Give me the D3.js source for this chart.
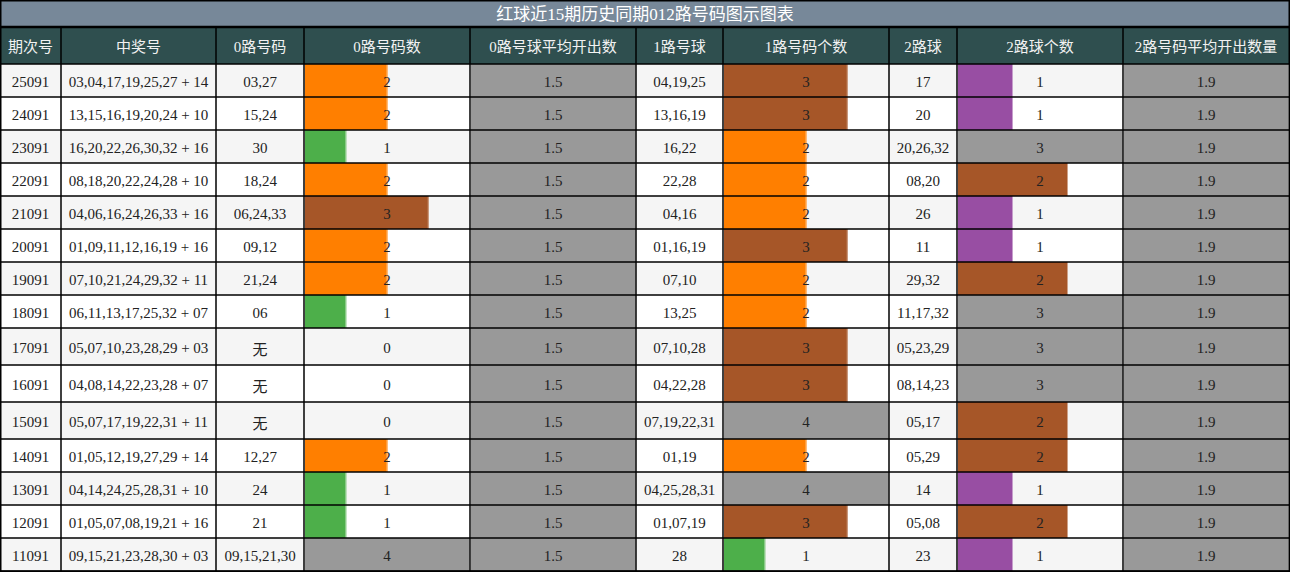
<!DOCTYPE html>
<html><head><meta charset="utf-8">
<script src="https://cdn.jsdelivr.net/npm/d3@7"></script>
<style>
body{margin:0;background:#fff}
svg{display:block}
text{font-family:"Liberation Serif","Noto Sans CJK SC",serif}
</style>
</head><body><svg id="c" width="1290" height="572"></svg>
<script>
const title = "红球近15期历史同期012路号码图示图表";
const headers = ["期次号","中奖号","0路号码","0路号码数","0路号球平均开出数","1路号球","1路号码个数","2路球","2路球个数","2路号码平均开出数量"];
const periods = ["25091","24091","23091","22091","21091","20091","19091","18091","17091","16091","15091","14091","13091","12091","11091"];
const draws = ["03,04,17,19,25,27 + 14","13,15,16,19,20,24 + 10","16,20,22,26,30,32 + 16","08,18,20,22,24,28 + 10","04,06,16,24,26,33 + 16","01,09,11,12,16,19 + 16","07,10,21,24,29,32 + 11","06,11,13,17,25,32 + 07","05,07,10,23,28,29 + 03","04,08,14,22,23,28 + 07","05,07,17,19,22,31 + 11","01,05,12,19,27,29 + 14","04,14,24,25,28,31 + 10","01,05,07,08,19,21 + 16","09,15,21,23,28,30 + 03"];
const zeroNums = ["03,27","15,24","30","18,24","06,24,33","09,12","21,24","06","无","无","无","12,27","24","21","09,15,21,30"];
const zeroCounts = [2,2,1,2,3,2,2,1,0,0,0,2,1,1,4];
const zeroAvg = [1.5,1.5,1.5,1.5,1.5,1.5,1.5,1.5,1.5,1.5,1.5,1.5,1.5,1.5,1.5];
const oneNums = ["04,19,25","13,16,19","16,22","22,28","04,16","01,16,19","07,10","13,25","07,10,28","04,22,28","07,19,22,31","01,19","04,25,28,31","01,07,19","28"];
const oneCounts = [3,3,2,2,2,3,2,2,3,3,4,2,4,3,1];
const twoNums = ["17","20","20,26,32","08,20","26","11","29,32","11,17,32","05,23,29","08,14,23","05,17","05,29","14","05,08","23"];
const twoCounts = [1,1,3,2,1,1,2,3,3,3,2,2,1,2,1];
const twoAvg = [1.9,1.9,1.9,1.9,1.9,1.9,1.9,1.9,1.9,1.9,1.9,1.9,1.9,1.9,1.9];

// layout
const W = 1290, titleH = 27, headH = 37, baseRowH = 33, tallRowH = 37;
const colWidths = [61,155,88,166,166,87,166,68,166,166];
const colX = [0]; colWidths.forEach((w,i)=>colX.push(colX[i]+w));

const pal4 = {1:"#4daf4a",2:"#ff7f00",3:"#a65628",4:"#999999"};
const pal3 = {1:"#984ea3",2:"#a65628",3:"#999999"};

const rows = periods.map((p,i)=>({
  cells:[p, draws[i], zeroNums[i], zeroCounts[i], zeroAvg[i], oneNums[i], oneCounts[i], twoNums[i], twoCounts[i], twoAvg[i]]
}));

const s04 = d3.scaleLinear().domain([0,4]);
const s03 = d3.scaleLinear().domain([0,3]);
const sAvg0 = d3.scaleLinear().domain([0,d3.max(zeroAvg)]);
const sAvg2 = d3.scaleLinear().domain([0,d3.max(twoAvg)]);
const barSpec = {
  3:{scale:s04, color:v=>pal4[v]},
  4:{scale:sAvg0, color:v=>"#999999"},
  6:{scale:s04, color:v=>pal4[v]},
  8:{scale:s03, color:v=>pal3[v]},
  9:{scale:sAvg2, color:v=>"#999999"}
};
Object.entries(barSpec).forEach(([c,s])=>s.scale.range([0,colWidths[c]-1]));

// row y positions
let y = titleH + headH;
rows.forEach(r=>{
  r.h = r.cells.includes("无") ? tallRowH : baseRowH;
  r.y = y; y += r.h;
});
const H = y;

const svg = d3.select("#c");

// title
svg.append("rect").attr("x",0).attr("y",0).attr("width",W).attr("height",titleH).attr("fill","#778899");
svg.append("text").attr("x",W/2).attr("y",titleH/2+1).attr("text-anchor","middle")
  .attr("dominant-baseline","central").attr("fill","#ffffff").attr("font-size",17).text(title);

// header
svg.append("rect").attr("x",0).attr("y",titleH).attr("width",W).attr("height",headH).attr("fill","#2f4f4f");
svg.selectAll("text.h").data(headers).join("text").attr("class","h")
  .attr("x",(d,i)=>colX[i]+colWidths[i]/2).attr("y",titleH+headH/2+1)
  .attr("text-anchor","middle").attr("dominant-baseline","central")
  .attr("fill","#f2f2f2").attr("font-size",15).text(d=>d);

// rows
const g = svg.selectAll("g.row").data(rows).join("g").attr("class","row")
  .attr("transform",d=>`translate(0,${d.y})`);
g.append("rect").attr("x",0).attr("y",0).attr("width",W).attr("height",d=>d.h)
  .attr("fill",(d,i)=>i%2===0?"#f5f5f5":"#ffffff");

g.each(function(r){
  const sel = d3.select(this);
  r.cells.forEach((v,c)=>{
    const spec = barSpec[c];
    if(spec && v>0){
      const w = spec.scale(v);
      const col = spec.color(v);
      sel.append("rect").attr("x",colX[c]+1).attr("y",0).attr("width",w).attr("height",r.h).attr("fill",col);
      sel.append("rect").attr("x",colX[c]+w).attr("y",0).attr("width",1).attr("height",r.h)
        .attr("fill",d3.interpolateRgb(col,"#ffffff")(0.45));
    }
  });
  sel.selectAll("text.v").data(r.cells).join("text").attr("class","v")
    .attr("x",(d,c)=>colX[c]+colWidths[c]/2)
    .attr("y",d=>r.h/2+(d==="无"?3:1))
    .attr("text-anchor","middle").attr("dominant-baseline","central")
    .attr("fill","#222222").attr("font-size",15).text(d=>d);
});

// grid lines
const grid = svg.append("g").attr("stroke","#000").attr("stroke-width",1.5).attr("fill","none");
colX.slice(1,-1).forEach(x=>{
  grid.append("line").attr("x1",x).attr("x2",x).attr("y1",titleH).attr("y2",H);
});
[titleH+headH, ...rows.map(r=>r.y+r.h)].forEach(yy=>{
  grid.append("line").attr("x1",0).attr("x2",W).attr("y1",yy).attr("y2",yy);
});
grid.append("line").attr("x1",0).attr("x2",W).attr("y1",titleH).attr("y2",titleH).attr("stroke-width",2.5);
grid.append("rect").attr("x",0.75).attr("y",0.75).attr("width",W-1.5).attr("height",H-0.5);
</script></body></html>
